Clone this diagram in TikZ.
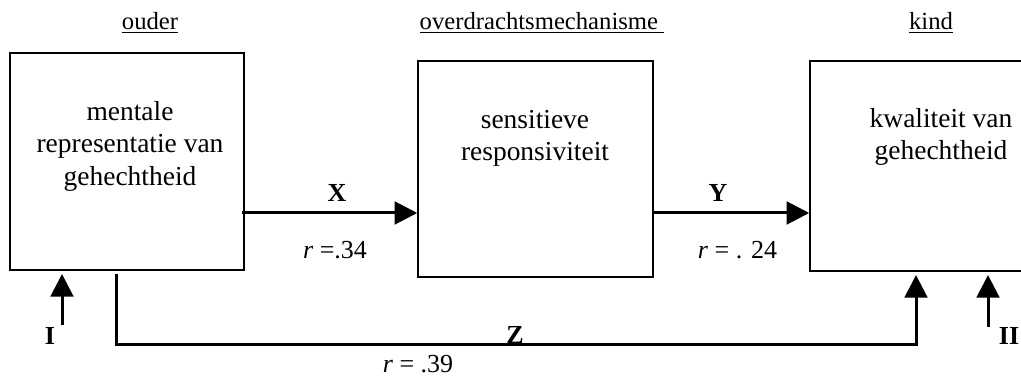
\documentclass[tikz,border=0pt]{standalone}
\usepackage{fontspec}
\setmainfont{Liberation Serif}
\usetikzlibrary{arrows.meta}

\tikzset{
  box/.style={draw, line width=1.1pt, inner sep=0pt, minimum height=#1},
  boxtext/.style={align=center, font=\fontsize{20.6}{24.4}\selectfont},
  kop/.style={anchor=base, font=\fontsize{18.5}{22}\selectfont},
  lab/.style={anchor=base, inner sep=0pt, font=\fontsize{19.5}{22}\selectfont},
  pad/.style={line width=2.25pt, -{Triangle[length=17pt,width=17pt]}},
}

\begin{document}
\begin{tikzpicture}[x=0.75pt, y=-0.75pt]
    \useasboundingbox (0,0) rectangle (1021,377);

    % koppen
    \node[kop] (hOuder) at (150,30) {\underline{ouder}};
    \node[kop] (hMech) at (542,30) {\underline{overdrachtsmechanisme\ }};
    \node[kop] (hKind) at (931,30) {\underline{kind}};

    % drie blokken
    \node[box=162.75pt, minimum width=175.5pt] (ouder) at (127,161.5) {};
    \node[box=162pt, minimum width=176.25pt] (mech) at (535.5,169) {};
    \node[box=157.5pt, minimum width=196.5pt] (kind) at (941,166) {};

    \node[boxtext] (tOuder) at (130,146) {mentale\\representatie van\\gehechtheid};
    \node[boxtext] (tMech) at (535,138.5) {sensitieve\\responsiviteit};
    \node[boxtext] (tKind) at (941,137) {kwaliteit van\\gehechtheid};

    % paden X en Y
    \coordinate (rij) at (0,213);
    \draw[pad] ([xshift=-2.25pt]ouder.east |- rij) -- (mech.west |- rij);
    \draw[pad] (mech.east |- rij) -- (kind.west |- rij);
    \node[lab] (lX) at (337,202) {\textbf{X}};
    \node[lab] (lY) at (718,202) {\textbf{Y}};
    \node[lab] (rX) at (335,259) {\textit{r} =.34};
    \node[lab] (rY) at (737.5,259) {\textit{r} = . 24};

    % pad Z onderlangs
    \coordinate (zBegin) at (116,274);
    \coordinate (zHoek) at (116,345);
    \coordinate (zEind) at (916,275);
    \draw[pad] (zBegin) -- (zHoek) -| (zEind);
    \node[lab] (lZ) at (515,344) {\textbf{Z}};
    \node[lab] (rZ) at (418,373) {\textit{r} = .39};

    % invloeden I en II
    \coordinate (iVan) at (62,325);
    \coordinate (iNaar) at (62,274);
    \coordinate (iiVan) at (988,327);
    \coordinate (iiNaar) at (988,275);
    \draw[pad] (iVan) -- (iNaar);
    \draw[pad] (iiVan) -- (iiNaar);
    \node[lab] (lI) at (50,345) {\textbf{I}};
    \node[lab] (lII) at (1009,345) {\textbf{II}};
\end{tikzpicture}
\end{document}
